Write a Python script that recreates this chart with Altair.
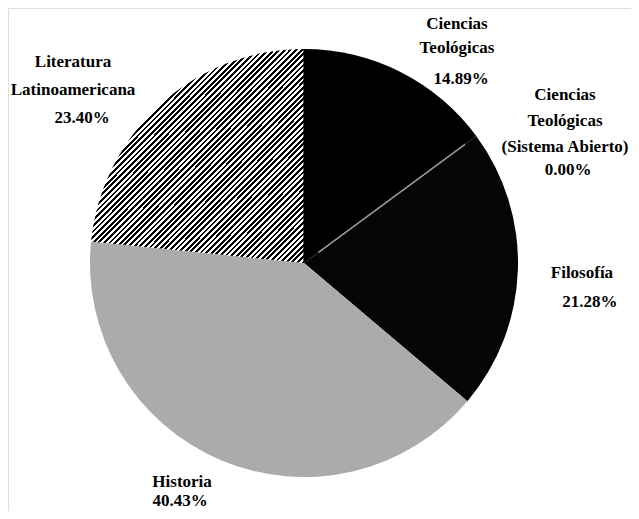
import math
import altair as alt
import pandas as pd

# ---- data -------------------------------------------------------------
categories = [
    "Ciencias Teológicas",
    "Ciencias Teológicas (Sistema Abierto)",
    "Filosofía",
    "Historia",
    "Literatura Latinoamericana",
]
label_names = [
    "Ciencias\nTeológicas",
    "Ciencias\nTeológicas\n(Sistema Abierto)",
    "Filosofía",
    "Historia",
    "Literatura\nLatinoamericana",
]
values = [14.89, 0.00, 21.28, 40.43, 23.40]

df = pd.DataFrame({
    "i": list(range(len(categories))),
    "cat": categories,
    "name": label_names,
    "v": values,
    "pct": [f"{v:.2f}%" for v in values],
})

# ---- layout / style ---------------------------------------------------
W, H = 623, 503
CX, CY = 296, 255          # pie centre inside the plot area
R = 214
LABEL_R = 250
FONT = "'Liberation Serif', 'Times New Roman', 'DejaVu Serif', serif"

theta_scale = alt.Scale(domain=[0, 100], range=[0, 2 * math.pi], nice=False, zero=True)

# diagonal hatch for "Literatura Latinoamericana"
n_periods = 76
stops = []
for j in range(n_periods):
    a = j / n_periods
    b = (j + 0.5) / n_periods
    c = (j + 1) / n_periods
    stops += [
        {"offset": a, "color": "#ffffff"},
        {"offset": b, "color": "#ffffff"},
        {"offset": b, "color": "#000000"},
        {"offset": c, "color": "#000000"},
    ]
hatch = {"gradient": "linear", "x1": 0, "y1": 0, "x2": 1, "y2": 1, "stops": stops}

fills = ["#000000", "#000000", "#050505", "#ababab", hatch]

base = (
    alt.Chart(df)
    .transform_window(cum="sum(v)", sort=[alt.SortField("i")])
    .transform_calculate(start="datum.cum - datum.v", mid="datum.cum - datum.v / 2")
)

layers = []
for k, f in enumerate(fills):
    if values[k] == 0:
        continue
    layers.append(
        base.transform_filter(f"datum.i == {k}")
        .mark_arc(outerRadius=R, strokeWidth=0)
        .encode(
            theta=alt.Theta("start:Q", scale=theta_scale),
            theta2="cum:Q",
            x=alt.value(CX),
            y=alt.value(CY),
            fill=alt.value(f),
        )
    )

# outline of the whole pie
layers.append(
    base.transform_filter("datum.i == 0")
    .mark_arc(outerRadius=R, fillOpacity=0, stroke="#000000", strokeWidth=1.2)
    .encode(
        theta=alt.Theta("start:Q", scale=theta_scale),
        theta2=alt.value(2 * math.pi),
        x=alt.value(CX),
        y=alt.value(CY),
    )
)

# zero-size slice shows as a thin grey line
layers.append(
    base.transform_filter("datum.v == 0")
    .mark_arc(innerRadius=18, outerRadius=200, fillOpacity=0, stroke="#9a9a9a", strokeWidth=1.6)
    .encode(
        theta=alt.Theta("start:Q", scale=theta_scale),
        theta2="cum:Q",
        x=alt.value(CX),
        y=alt.value(CY),
    )
)

# label offsets (name block, percentage) relative to the mid-angle anchor
name_off = [(40.3, -10.8, 24), (59.8, -14.6, 26), (28.1, 6.7, 20), (-24.3, -6.0, 20), (-63.3, -10.6, 28)]
pct_off = [(44.3, 44.2), (62.8, 60.4), (36.1, 35.7), (-26.3, 13.0), (-54.3, 45.4)]


def text_layer(k, field, dx, dy, lh=20):
    return (
        base.transform_filter(f"datum.i == {k}")
        .mark_text(
            font=FONT, fontSize=17, fontWeight="bold", color="#000000",
            align="center", baseline="alphabetic", lineBreak="\n", lineHeight=lh,
            dx=dx, dy=dy,
        )
        .encode(
            theta=alt.Theta("mid:Q", scale=theta_scale),
            radius=alt.value(LABEL_R),
            x=alt.value(CX),
            y=alt.value(CY),
            text=alt.Text(f"{field}:N"),
        )
    )


for k in range(len(categories)):
    dx, dy, lh = name_off[k]
    layers.append(text_layer(k, "name", dx, dy, lh))
    pdx, pdy = pct_off[k]
    layers.append(text_layer(k, "pct", pdx, pdy))

chart = (
    alt.layer(*layers)
    .properties(width=W, height=H, padding=0, autosize=alt.AutoSizeParams(type="none"))
    .configure_view(stroke=None)
    .configure(background="#ffffff")
)

chart.save("out.html", embed_options={"renderer": "svg", "actions": False})
